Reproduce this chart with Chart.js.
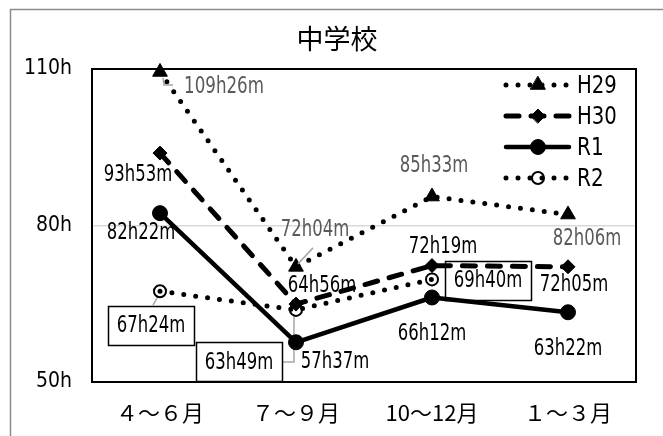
<!DOCTYPE html>
<html>
<head>
<meta charset="utf-8">
<script src="https://cdn.jsdelivr.net/npm/chart.js@4.4.1/dist/chart.umd.min.js"></script>
<style>
html, body { margin: 0; padding: 0; background: #fff; overflow: hidden; }
canvas { display: block; }
</style>
</head>
<body>
<canvas id="chart" width="663" height="436"></canvas>
<script>
// ---- data ----
const chartTitle = '中学校';
const categories = ['４～６月', '７～９月', '10～12月', '１～３月'];
const seriesNames = ['H29', 'H30', 'R1', 'R2'];
// average overtime per quarter, in minutes
const h29Minutes = [6566, 4324, 5133, 4926];
const h30Minutes = [5633, 3896, 4339, 4325];
const r1Minutes  = [4942, 3457, 3972, 3802];
const r2Minutes  = [4044, 3829, 4180, null];
const yTickValues = [50, 80, 110];

// ---- styling ----
const NARROW = '"DejaVu Sans Condensed", "DejaVu Sans", sans-serif';
const JP = '"Noto Sans CJK JP", "Noto Sans", sans-serif';

const seriesMinutes = [h29Minutes, h30Minutes, r1Minutes, r2Minutes];
const seriesStyle = [
  { dash: [0, 12],  width: 5,   point: 'triangle', radius: 8.5, fill: '#000', pointBorder: 1, labelColor: '#595959' },
  { dash: [13, 12], width: 5,   point: 'rectRot',  radius: 7,   fill: '#000', pointBorder: 1, labelColor: '#000' },
  { dash: [],       width: 4.5, point: 'circle',   radius: 7.5, fill: '#000', pointBorder: 1, labelColor: '#000' },
  { dash: [0, 12],  width: 5,   point: 'circle',   radius: 6,   fill: 'rgba(0,0,0,0)', pointBorder: 2, labelColor: '#000' }
];

// label offsets from each point (px); boxed labels get a frame, leaders are polylines relative to the point
const labelLayout = [
  [ { dx: 64, dy: 14, leader: [[3, 6], [4, 13], [13, 13]] },
    { dx: 19, dy: -38, leader: [[17, -19], [2, -3]] },
    { dx: 2, dy: -32 },
    { dx: 19, dy: 23 } ],
  [ { dx: -22, dy: 21 }, { dx: 26, dy: -19 }, { dx: 11, dy: -20 }, { dx: 6, dy: 17 } ],
  [ { dx: -19, dy: 19 }, { dx: 39, dy: 19 }, { dx: 0, dy: 36 }, { dx: 0, dy: 36 } ],
  [ { dx: -9, dy: 34, box: true, leader: [[-7, 14], [-2, 5]] },
    { dx: -57, dy: 52, box: true, leader: [[-13, 52], [-2, 52], [-2, 4]] },
    { dx: 56, dy: 1, box: true },
    null ]
];

const formatHM = m => Math.floor(m / 60) + 'h' + String(m % 60).padStart(2, '0') + 'm';

// narrow, tall lettering: squeeze horizontally to a fixed advance per character
function fillNarrow(ctx, text, x, y, perChar) {
  const w = ctx.measureText(text).width;
  const sx = Math.min(1, (text.length * perChar) / w);
  ctx.save();
  ctx.translate(x, y);
  ctx.scale(sx, 1);
  ctx.fillText(text, 0, 0);
  ctx.restore();
}

const datasets = seriesNames.map((name, i) => {
  const s = seriesStyle[i];
  return {
    label: name,
    data: seriesMinutes[i].map(m => (m == null ? null : m / 60)),
    borderColor: '#000',
    borderWidth: s.width,
    borderDash: s.dash,
    borderCapStyle: 'round',
    borderJoinStyle: 'round',
    pointStyle: s.point,
    pointRadius: s.radius,
    pointHoverRadius: s.radius,
    pointBackgroundColor: s.fill,
    pointBorderColor: '#000',
    pointBorderWidth: s.pointBorder,
    tension: 0,
    spanGaps: false,
    clip: false
  };
});

function drawLabel(ctx, text, x, y, color, box) {
  ctx.font = '23px ' + NARROW;
  ctx.textAlign = 'center';
  ctx.textBaseline = 'middle';
  if (box) {
    ctx.fillStyle = '#fff';
    ctx.fillRect(x - 43, y - 19.5, 86, 39);
    ctx.strokeStyle = '#000';
    ctx.lineWidth = 1.5;
    ctx.setLineDash([]);
    ctx.strokeRect(Math.round(x - 43) + 0.5, Math.round(y - 19.5) + 0.5, 86, 39);
  }
  ctx.fillStyle = color;
  fillNarrow(ctx, text, x, y + 1, 11.4);
}

function drawLeader(ctx, px, py, pts) {
  ctx.strokeStyle = '#a6a6a6';
  ctx.lineWidth = 1.5;
  ctx.setLineDash([]);
  ctx.beginPath();
  pts.forEach((p, k) => {
    if (k === 0) ctx.moveTo(px + p[0], py + p[1]);
    else ctx.lineTo(px + p[0], py + p[1]);
  });
  ctx.stroke();
}

function eachLabel(chart, wantBox, fn) {
  seriesMinutes.forEach((vals, i) => {
    const meta = chart.getDatasetMeta(i);
    vals.forEach((m, j) => {
      const lay = labelLayout[i][j];
      if (m == null || !lay || !!lay.box !== wantBox) return;
      const el = meta.data[j];
      fn(i, j, m, lay, el.x, el.y);
    });
  });
}

const decorPlugin = {
  id: 'decor',
  beforeDraw(chart) {
    const c = chart.ctx;
    c.save();
    c.fillStyle = '#fff';
    c.fillRect(0, 0, chart.width, chart.height);
    // outer frame
    c.strokeStyle = '#8c8c8c';
    c.lineWidth = 1.5;
    c.beginPath();
    c.moveTo(10.5, chart.height);
    c.lineTo(10.5, 9.5);
    c.lineTo(chart.width, 9.5);
    c.stroke();
    // title
    c.fillStyle = '#000';
    c.font = '27px ' + JP;
    c.textAlign = 'center';
    c.textBaseline = 'middle';
    c.fillText(chartTitle, 337, 39);
    c.restore();
  },
  beforeDatasetsDraw(chart) {
    const c = chart.ctx;
    const a = chart.chartArea;
    c.save();
    c.strokeStyle = '#000';
    c.lineWidth = 2;
    c.strokeRect(a.left, a.top, a.right - a.left, a.bottom - a.top);
    eachLabel(chart, true, (i, j, m, lay, x, y) => {
      if (lay.leader) drawLeader(c, x, y, lay.leader);
      drawLabel(c, formatHM(m), x + lay.dx, y + lay.dy, seriesStyle[i].labelColor, true);
    });
    c.restore();
  },
  afterDatasetsDraw(chart) {
    const c = chart.ctx;
    c.save();
    eachLabel(chart, false, (i, j, m, lay, x, y) => {
      if (lay.leader) drawLeader(c, x, y, lay.leader);
      drawLabel(c, formatHM(m), x + lay.dx, y + lay.dy, seriesStyle[i].labelColor, false);
    });
    c.restore();
  },
  afterDraw(chart) {
    // legend: line sample with marker, then series name
    const c = chart.ctx;
    const rows = [85, 116, 147, 178];
    c.save();
    seriesNames.forEach((name, i) => {
      const s = seriesStyle[i];
      const y = rows[i];
      c.strokeStyle = '#000';
      c.lineWidth = s.width;
      c.lineCap = 'round';
      c.setLineDash(s.dash);
      c.beginPath();
      c.moveTo(506, y);
      c.lineTo(569, y);
      c.stroke();
      c.setLineDash([]);
      c.fillStyle = s.fill;
      c.strokeStyle = '#000';
      c.lineWidth = s.pointBorder;
      Chart.helpers.drawPoint(c, { pointStyle: s.point, radius: s.radius, borderWidth: s.pointBorder, rotation: 0 }, 538, y);
      c.fillStyle = '#000';
      c.font = '25px ' + NARROW;
      c.textAlign = 'left';
      c.textBaseline = 'middle';
      fillNarrow(c, name, 577, y + 1, 13.3);
    });
    c.restore();
  }
};

new Chart(document.getElementById('chart'), {
  type: 'line',
  data: { labels: categories, datasets },
  plugins: [decorPlugin],
  options: {
    responsive: false,
    animation: false,
    devicePixelRatio: 1,
    layout: { padding: { left: 12, right: 27, top: 69, bottom: 0 } },
    plugins: { legend: { display: false }, title: { display: false }, tooltip: { enabled: false } },
    scales: {
      x: {
        type: 'category',
        offset: true,
        grid: { display: false, drawTicks: false },
        border: { display: false },
        ticks: { font: { family: JP, size: 22 }, color: '#000', padding: 17, maxRotation: 0, autoSkip: false },
        afterFit(s) { s.height = 54; }
      },
      y: {
        min: 50,
        max: 110,
        afterBuildTicks(s) { s.ticks = yTickValues.map(v => ({ value: v })); },
        grid: {
          drawTicks: false,
          lineWidth: 1.5,
          color: c => (c.tick && c.tick.value === 80 ? '#d9d9d9' : 'rgba(0,0,0,0)')
        },
        border: { display: false },
        ticks: { font: { family: NARROW, size: 21 }, color: '#000', padding: 20, callback: v => v + 'h' },
        afterFit(s) { s.width = 80; }
      }
    }
  }
});
</script>
</body>
</html>
